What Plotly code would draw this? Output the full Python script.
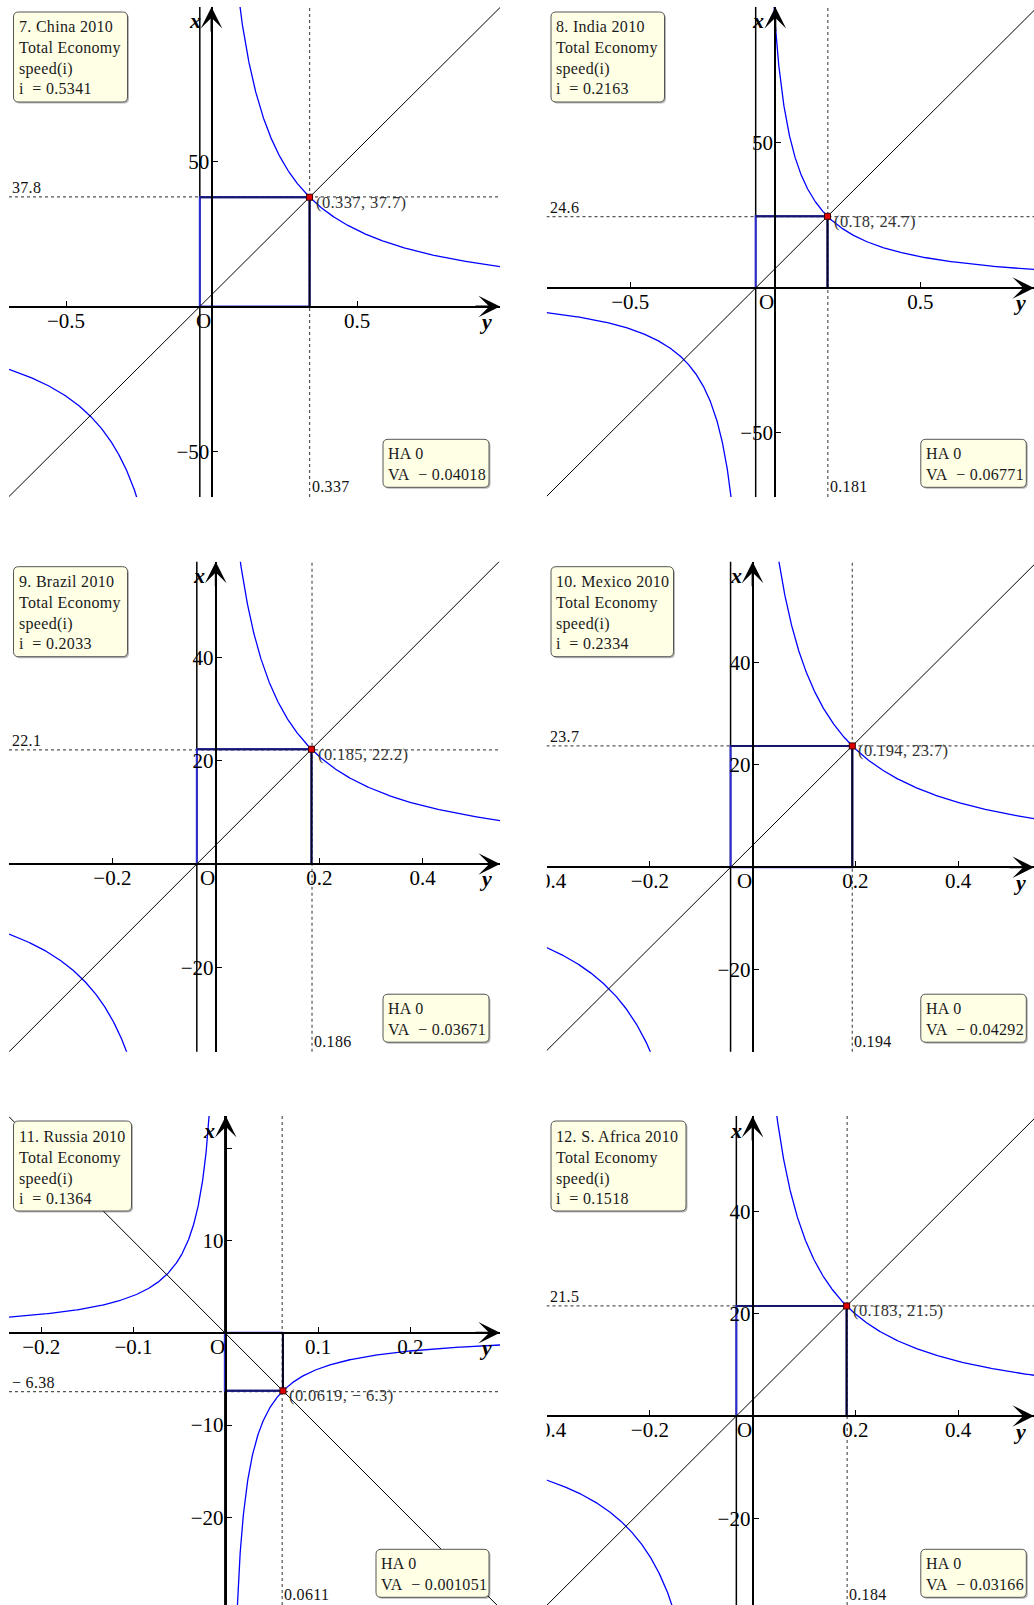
import numpy as np
import plotly.graph_objects as go

W, H = 1034, 1605

# ---- per-economy values -------------------------------------------------
titles = ["7. China 2010", "8. India 2010", "9. Brazil 2010",
          "10. Mexico 2010", "11. Russia 2010", "12. S. Africa 2010"]
speed_i = ["0.5341", "0.2163", "0.2033", "0.2334", "0.1364", "0.1518"]
ha_value = ["0", "0", "0", "0", "0", "0"]
va = [-0.04018, -0.06771, -0.03671, -0.04292, -0.001051, -0.03166]
va_text = ["− 0.04018", "− 0.06771", "− 0.03671", "− 0.04292", "− 0.001051", "− 0.03166"]

# equilibrium point (y, x) and its label
pt_y = [0.337, 0.18, 0.185, 0.194, 0.0619, 0.183]
pt_x = [37.7, 24.7, 22.2, 23.7, -6.3, 21.5]
pt_text = ["(0.337, 37.7)", "(0.18, 24.7)", "(0.185, 22.2)",
           "(0.194, 23.7)", "(0.0619, − 6.3)", "(0.183, 21.5)"]

# dotted guide lines
guide_y = [0.337, 0.181, 0.186, 0.194, 0.0611, 0.184]
guide_y_text = ["0.337", "0.181", "0.186", "0.194", "0.0611", "0.184"]
guide_x = [37.8, 24.6, 22.1, 23.7, -6.38, 21.5]
guide_x_text = ["37.8", "24.6", "22.1", "23.7", "− 6.38", "21.5"]

# axis windows
y_range = [(-0.6959, 0.9914), (-0.789, 0.892), (-0.3998, 0.5494),
           (-0.4012, 0.5477), (-0.2349, 0.2971), (-0.4012, 0.5477)]
x_range = [(-65.7, 103.3), (-72.1, 96.9), (-36.33, 58.5),
           (-36.02, 59.69), (-29.5, 23.48), (-36.9, 58.6)]

# ticks
y_ticks = [[-0.5, 0.5], [-0.5, 0.5], [-0.2, 0.2, 0.4],
           [-0.4, -0.2, 0.2, 0.4], [-0.2, -0.1, 0.1, 0.2], [-0.4, -0.2, 0.2, 0.4]]
x_ticks = [[-50, 50], [-50, 50], [-20, 20, 40],
           [-20, 20, 40], [-20, -10, 10, 20], [-20, 20, 40]]
x_tick_text = [["−50", "50"], ["−50", "50"], ["−20", "20", "40"],
               ["−20", "20", "40"], ["−20", "−10", "10", ""], ["−20", "20", "40"]]

# ---- layout constants (pixels) -----------------------------------------
col_left = [9, 546.5]
col_right = [500, 1034]
row_top = [7, 561.7, 1116]
row_bottom = [497, 1051.7, 1605]

# legend-box geometry
info_w = [114, 113.5, 114, 122.5, 118, 135]
info_h = 90
info_dx, info_dy = 4.5, 5
ha_w = [106, 105.5, 106, 105.5, 113, 105.5]
ha_h = 48
ha_gap_right = [11, 7.7]
ha_gap_bottom = [9.7, 9.5, 7.7]

SERIF = "Liberation Serif"
BOX_FILL = "#ffffe6"
BOX_EDGE = "#555555"


def spaced(txt, px):
    return f'<span style="letter-spacing:{px}px">{txt}</span>'


def round_rect(x0, y_top, w, h, r=5):
    """Rounded rectangle path in pixel offsets (y grows upward)."""
    x1, y_bot = x0 + w, y_top - h
    return (f"M{x0 + r},{y_top} L{x1 - r},{y_top} Q{x1},{y_top} {x1},{y_top - r} "
            f"L{x1},{y_bot + r} Q{x1},{y_bot} {x1 - r},{y_bot} "
            f"L{x0 + r},{y_bot} Q{x0},{y_bot} {x0},{y_bot + r} "
            f"L{x0},{y_top - r} Q{x0},{y_top} {x0 + r},{y_top} Z")


def box_shapes(xref, yref, xanc, yanc, x0, y_top, w, h):
    common = dict(type="path", xref=xref, yref=yref, xsizemode="pixel", ysizemode="pixel",
                  xanchor=xanc, yanchor=yanc, layer="above")
    return [
        dict(path=round_rect(x0 + 1.5, y_top - 1.5, w, h),
             fillcolor="rgba(0,0,0,0.28)", line=dict(width=0), **common),
        dict(path=round_rect(x0, y_top, w, h),
             fillcolor=BOX_FILL, line=dict(color=BOX_EDGE, width=1), **common),
    ]


fig = go.Figure()
shapes = []
annotations = []

for k in range(6):
    r, c = divmod(k, 2)
    sfx = "" if k == 0 else str(k + 1)
    xa, ya = "x" + sfx, "y" + sfx
    L, R, T, B = col_left[c], col_right[c], row_top[r], row_bottom[r]
    hmin, hmax = y_range[k]
    vmin, vmax = x_range[k]
    dom_h = [L / W, R / W]
    dom_v = [1 - B / H, 1 - T / H]
    hpos = dom_v[0] + (0 - vmin) / (vmax - vmin) * (dom_v[1] - dom_v[0])
    vpos = dom_h[0] + (0 - hmin) / (hmax - hmin) * (dom_h[1] - dom_h[0])

    fig.layout["xaxis" + sfx] = dict(
        domain=dom_h, range=[hmin, hmax], anchor="free", position=hpos,
        showline=True, linewidth=2, linecolor="black",
        ticks="inside", ticklen=5, tickwidth=1, tickcolor="black",
        tickvals=y_ticks[k], showgrid=False, zeroline=False,
        ticklabelstandoff=-5, automargin=False,
        tickfont=dict(family=SERIF, size=21, color="black"), fixedrange=True)
    fig.layout["yaxis" + sfx] = dict(
        domain=dom_v, range=[vmin, vmax], anchor="free", position=vpos,
        showline=True, linewidth=2, linecolor="black",
        ticks="inside", ticklen=5, tickwidth=1, tickcolor="black",
        tickvals=x_ticks[k], ticktext=x_tick_text[k],
        showgrid=False, zeroline=False, ticklabelstandoff=-3, automargin=False,
        tickfont=dict(family=SERIF, size=21, color="black"), fixedrange=True)

    a = va[k]
    y0, x0 = pt_y[k], pt_x[k]
    cval = x0 * (y0 - a)          # hyperbola x = c / (y - VA)
    slope = x0 / (y0 - a)         # ray through (VA, 0) and the point

    # hyperbola branches
    lim = 4 * max(abs(vmin), abs(vmax))
    eps = abs(cval) / lim
    s_pos = np.geomspace(eps, max(hmax - a, eps * 1.01), 700)
    s_neg = -np.geomspace(eps, max(a - hmin, eps * 1.01), 700)[::-1]
    ys = np.concatenate([a + s_neg, [np.nan], a + s_pos])
    xs = np.concatenate([cval / s_neg, [np.nan], cval / s_pos])
    fig.add_trace(go.Scatter(x=ys, y=xs, mode="lines", xaxis=xa, yaxis=ya,
                             line=dict(color="#0000ff", width=1.3),
                             hoverinfo="skip", connectgaps=False))
    # ray
    fig.add_trace(go.Scatter(x=[hmin, hmax], y=[slope * (hmin - a), slope * (hmax - a)],
                             mode="lines", xaxis=xa, yaxis=ya,
                             line=dict(color="black", width=1), hoverinfo="skip"))

    # vertical asymptote
    shapes.append(dict(type="line", xref=xa, yref=ya + " domain", x0=a, x1=a, y0=0, y1=1,
                       line=dict(color="black", width=1.5), layer="below"))
    # dotted guides
    shapes.append(dict(type="line", xref=xa + " domain", yref=ya, x0=0, x1=1,
                       y0=guide_x[k], y1=guide_x[k],
                       line=dict(color="#555555", width=1.2, dash="dot"), layer="below"))
    shapes.append(dict(type="line", xref=xa, yref=ya + " domain", x0=guide_y[k], x1=guide_y[k],
                       y0=0, y1=1, line=dict(color="#555555", width=1.2, dash="dot"), layer="below"))
    # rectangle from the asymptote foot to the point
    shapes.append(dict(type="rect", xref=xa, yref=ya, x0=a, x1=y0, y0=0, y1=x0,
                       line=dict(color="#2a2ad6", width=2), layer="below"))
    shapes.append(dict(type="line", xref=xa, yref=ya, x0=a, x1=y0, y0=x0, y1=x0,
                       line=dict(color="#16166a", width=2), layer="below"))
    shapes.append(dict(type="line", xref=xa, yref=ya, x0=y0, x1=y0, y0=0, y1=x0,
                       line=dict(color="#05051e", width=2), layer="below"))

    # point marker
    fig.add_trace(go.Scatter(x=[y0], y=[x0], mode="markers", xaxis=xa, yaxis=ya,
                             marker=dict(symbol="square", size=6, color="#e00000",
                                         line=dict(color="#400000", width=1)),
                             hoverinfo="skip"))

    # arrows on the axes
    annotations.append(dict(x=hmax, y=0, xref=xa, yref=ya, ax=-26, ay=0, text="",
                            showarrow=True, arrowhead=3, arrowsize=1.8, arrowwidth=2,
                            arrowcolor="black"))
    annotations.append(dict(x=0, y=vmax, xref=xa, yref=ya, ax=0, ay=26, text="",
                            showarrow=True, arrowhead=3, arrowsize=1.8, arrowwidth=2,
                            arrowcolor="black"))
    # axis names and origin
    annotations.append(dict(x=0, y=vmax, xref=xa, yref=ya, text="<b><i>x</i></b>",
                            showarrow=False, xanchor="right", yanchor="middle",
                            xshift=-9, yshift=-14,
                            font=dict(family=SERIF, size=22, color="black")))
    annotations.append(dict(x=hmax, y=0, xref=xa, yref=ya, text="<b><i>y</i></b>",
                            showarrow=False, xanchor="right", yanchor="middle",
                            xshift=-6, yshift=-15,
                            font=dict(family=SERIF, size=22, color="black")))
    annotations.append(dict(x=0, y=0, xref=xa, yref=ya, text="O",
                            showarrow=False, xanchor="right", yanchor="middle",
                            xshift=1, yshift=-14,
                            font=dict(family=SERIF, size=21, color="black")))

    # guide labels
    annotations.append(dict(x=0, y=guide_x[k], xref=xa + " domain", yref=ya,
                            text=spaced(guide_x_text[k], 0.3), showarrow=False,
                            xanchor="left", yanchor="bottom", xshift=1, yshift=-1,
                            font=dict(family=SERIF, size=16, color="#111111")))
    annotations.append(dict(x=guide_y[k], y=0, xref=xa, yref=ya + " domain",
                            text=spaced(guide_y_text[k], 0.3), showarrow=False,
                            xanchor="left", yanchor="bottom", xshift=0, yshift=0,
                            font=dict(family=SERIF, size=16, color="#111111")))
    # point label
    annotations.append(dict(x=y0, y=x0, xref=xa, yref=ya, text=spaced(pt_text[k], 0.4),
                            showarrow=False, xanchor="left", yanchor="middle",
                            xshift=4, yshift=-5,
                            font=dict(family=SERIF, size=16.5, color="#333333")))

    # info box (top-left)
    shapes.extend(box_shapes(xa + " domain", ya + " domain", 0, 1,
                             info_dx, -info_dy, info_w[k], info_h))
    info = (f"{titles[k]}<br>Total Economy<br>speed(i)<br>"
            f"i\u00a0\u00a0= {speed_i[k]}")
    annotations.append(dict(
        x=0, y=1, xref=xa + " domain", yref=ya + " domain",
        text=spaced(info, 0.3), showarrow=False, align="left",
        xanchor="left", yanchor="middle",
        xshift=info_dx + 4, yshift=-info_dy - info_h / 2 - 1, borderpad=0,
        font=dict(family=SERIF, size=16, color="#1a1a1a")))

    # asymptote box (bottom-right)
    gx, gy = ha_gap_right[c], ha_gap_bottom[r]
    shapes.extend(box_shapes(xa + " domain", ya + " domain", 1, 0,
                             -gx - ha_w[k], gy + ha_h, ha_w[k], ha_h))
    annotations.append(dict(
        x=1, y=0, xref=xa + " domain", yref=ya + " domain",
        text=spaced(f"HA {ha_value[k]}<br>VA\u00a0\u00a0{va_text[k]}", 0.3),
        showarrow=False, align="left", xanchor="left", yanchor="middle",
        xshift=-gx - ha_w[k] + 4, yshift=gy + ha_h / 2 - 1, borderpad=0,
        font=dict(family=SERIF, size=16, color="#1a1a1a")))

# white gutter between the two columns
shapes.append(dict(type="rect", xref="paper", yref="paper",
                   x0=col_right[0] / W, x1=col_left[1] / W, y0=0, y1=1,
                   fillcolor="white", line=dict(width=0), layer="above"))

fig.update_layout(
    width=W, height=H, margin=dict(l=0, r=0, t=0, b=0, pad=0, autoexpand=False),
    paper_bgcolor="white", plot_bgcolor="white", showlegend=False,
    shapes=shapes, annotations=annotations,
)

fig.write_html("out.html", config={"displayModeBar": False})
